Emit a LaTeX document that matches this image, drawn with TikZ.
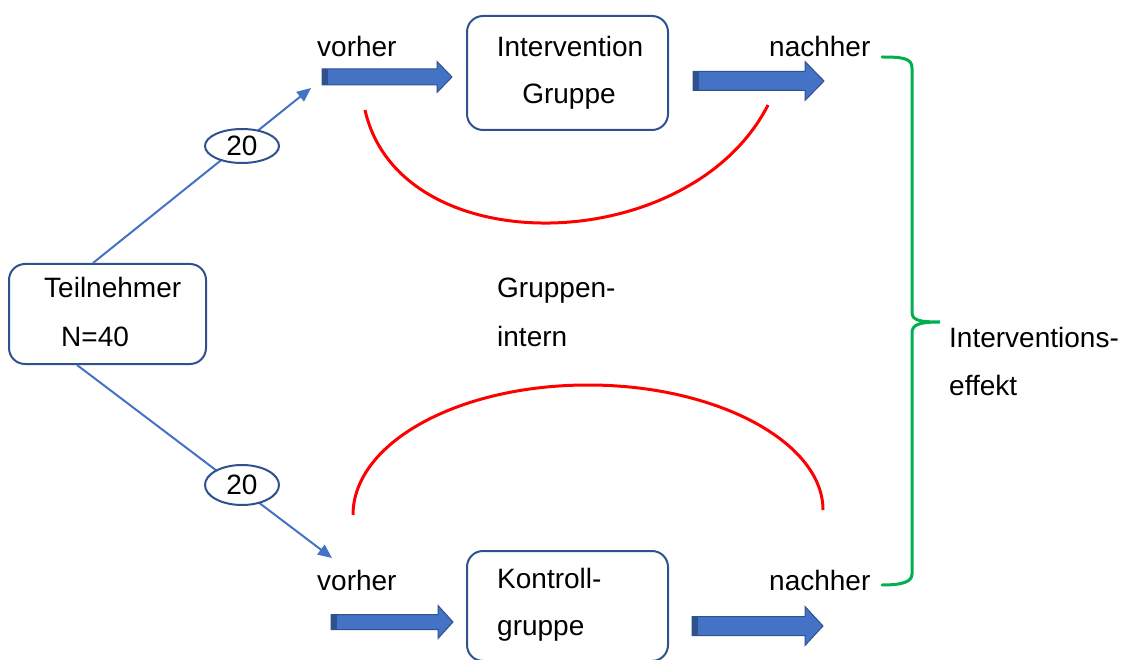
\documentclass[tikz,border=0pt]{standalone}
\usepackage{fontspec}
\setmainfont{Liberation Sans}
\usetikzlibrary{arrows.meta,shapes.geometric}
\definecolor{bl}{HTML}{4472C4}
\definecolor{dbl}{HTML}{2F528F}
\definecolor{grn}{HTML}{00B050}
\newcommand\blkarrow[6]{%
  \filldraw[fill=bl,draw=dbl,line width=1pt,line join=miter]
    (#1,#3-#4) -- (#2-#6,#3-#4) -- (#2-#6,#3-#5) -- (#2,#3) -- (#2-#6,#3+#5)
    -- (#2-#6,#3+#4) -- (#1,#3+#4) -- cycle;
  \fill[dbl] (#1,#3-#4) rectangle (#1+6,#3+#4);}
\begin{document}
\begin{tikzpicture}[x=1pt,y=-1pt,
  txt/.style={anchor=base west,inner sep=0pt,font=\fontsize{28}{33}\selectfont},
  ctxt/.style={anchor=base,inner sep=0pt,font=\fontsize{28}{33}\selectfont},
  rbox/.style={draw=dbl,line width=2pt,rounded corners=16pt,inner sep=0pt},
  conn/.style={draw=bl,line width=2pt,-{Triangle[length=14pt,width=12pt]}},
  oval/.style={ellipse,draw=dbl,line width=2pt,fill=white,inner sep=0pt,font=\fontsize{28}{33}\selectfont},
  redarc/.style={draw=red,line width=3pt},
  brace/.style={draw=grn,line width=3pt,line cap=round}]
\useasboundingbox (0,0) rectangle (1127,660);

% boxes
\node[rbox,minimum width=197pt,minimum height=100pt] (tn) at (107.5,314) {};
\node[rbox,minimum width=201pt,minimum height=114pt] (ig) at (567.5,73) {};
\node[rbox,minimum width=201pt,minimum height=110pt] (kg) at (567.5,606) {};

% connectors from Teilnehmer
\coordinate (s1) at (93,263);
\coordinate (e1) at (311,88);
\coordinate (s2) at (77,365);
\coordinate (e2) at (332,558);
\draw[conn] (s1) -- (e1);
\draw[conn] (s2) -- (e2);
\node[oval,minimum width=74pt,minimum height=34pt] (o1) at (242,146) {20};
\node[oval,minimum width=74pt,minimum height=40pt] (o2) at (242,485) {20};

% block arrows
\blkarrow{322}{452}{77}{8}{15.5}{15}
\blkarrow{693}{824}{81}{9.5}{19.5}{19}
\blkarrow{331}{453}{622}{7.5}{16.5}{15}
\blkarrow{692}{823}{626}{9.5}{19.5}{18}

% red arcs
\draw[redarc] (365,110) .. controls (400,265) and (690,258) .. (768,105);
\draw[redarc] (353,515) .. controls (353,443) and (458,385) .. (588,385)
  .. controls (718,385) and (823,443) .. (823,510);

% green brace
\draw[brace] (882,57) .. controls (902,57) and (912,58) .. (912,68) -- (912,312)
  .. controls (912,320) and (918,322) .. (940,322)
  .. controls (918,322) and (912,325) .. (912,333) -- (912,574)
  .. controls (912,582) and (902,585) .. (882,585);

% texts
\node[txt] (v1) at (317,57) {vorher};
\node[txt] (n1) at (769,57) {nachher};
\node[txt] (v2) at (317,590) {vorher};
\node[txt] (n2) at (769,590) {nachher};
\node[ctxt] (t1) at (570,57) {Intervention};
\node[ctxt] (t2) at (569,104) {Gruppe};
\node[txt] (k1) at (497,588) {Kontroll-};
\node[txt] (k2) at (497,635) {gruppe};
\node[txt] (p1) at (44,298) {Teilnehmer};
\node[txt] (p2) at (61,346) {N=40};
\node[txt] (g1) at (497,298) {Gruppen-};
\node[txt] (g2) at (497,346) {intern};
\node[txt] (i1) at (949,347) {Interventions-};
\node[txt] (i2) at (949,395) {effekt};
\end{tikzpicture}
\end{document}
